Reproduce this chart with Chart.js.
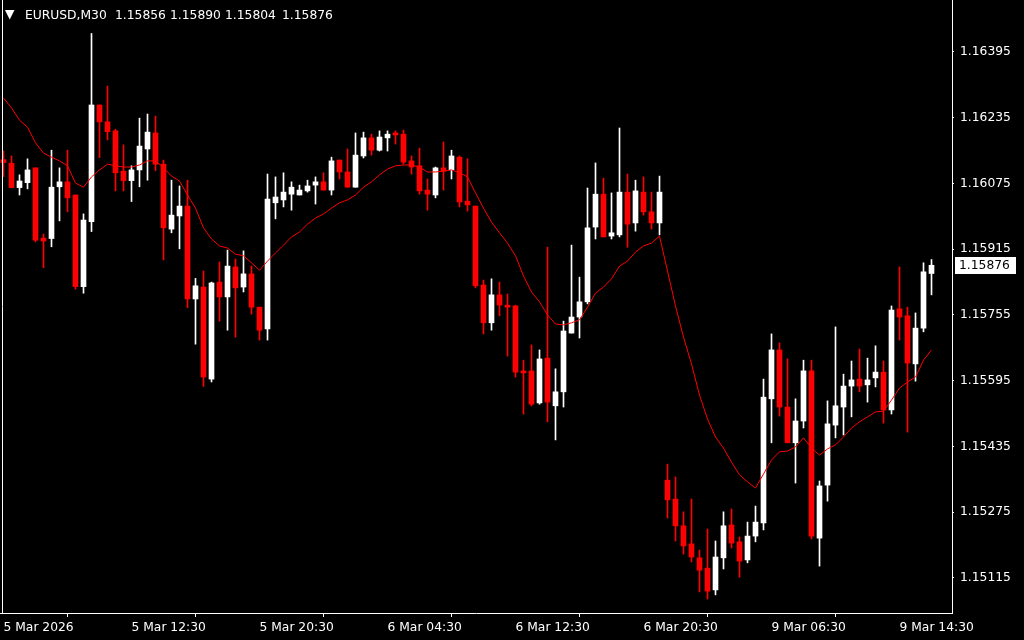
<!DOCTYPE html>
<html>
<head>
<meta charset="utf-8">
<script src="https://cdn.jsdelivr.net/npm/chart.js@4"></script>
<style>
html,body{margin:0;padding:0;background:#000;}
#wrap{width:1024px;height:640px;position:relative;}
</style>
</head>
<body>
<div id="wrap"><canvas id="c" width="1024" height="640"></canvas></div>
<script>
const symbol = "EURUSD,M30";
const xTickIndex = [0, 16, 32, 48, 64, 80, 96, 112];
const xTickLabels = ["5 Mar 2026", "5 Mar 12:30", "5 Mar 20:30", "6 Mar 04:30", "6 Mar 12:30", "6 Mar 20:30", "9 Mar 06:30", "9 Mar 14:30"];
const yTickValues = [1.15115, 1.15275, 1.15435, 1.15595, 1.15755, 1.15915, 1.16075, 1.16235, 1.16395];

const opens = [1.16133,1.16124,1.16065,1.16077,1.16113,1.15942,1.15941,1.16067,1.16079,1.16047,
1.15824,1.15982,1.16266,1.16225,1.16203,1.16105,1.16082,1.16108,1.16159,1.16198,
1.16122,1.15964,1.15996,1.16020,1.15794,1.15823,1.15599,1.15835,1.15799,1.15872,
1.15823,1.15855,1.15774,1.15721,1.16028,1.16035,1.16049,1.16047,1.16057,1.16071,
1.16079,1.16059,1.16132,1.16103,1.16066,1.16142,1.16186,1.16156,1.16186,1.16198,
1.16195,1.16130,1.16118,1.16059,1.16047,1.16113,1.16108,1.16139,1.16032,1.16020,
1.15828,1.15736,1.15804,1.15779,1.15777,1.15619,1.15619,1.15541,1.15650,1.15534,
1.15568,1.15711,1.15750,1.15787,1.15969,1.16049,1.15947,1.15950,1.16054,1.15979,
1.16054,1.16006,1.15979,1.15353,1.15307,1.15242,1.15198,1.15164,1.15139,1.15086,
1.15164,1.15244,1.15203,1.15159,1.15217,1.15249,1.15551,1.15670,1.15531,1.15444,
1.15497,1.15619,1.15212,1.15341,1.15487,1.15531,1.15582,1.15599,1.15585,1.15602,
1.15616,1.15524,1.15770,1.15753,1.15636,1.15723,1.15856];

const highs = [1.16154,1.16142,1.16096,1.16135,1.16113,1.15952,1.16156,1.16113,1.16156,1.16047,
1.16001,1.16440,1.16266,1.16312,1.16207,1.16169,1.16118,1.16234,1.16244,1.16239,
1.16132,1.16083,1.16069,1.16083,1.15844,1.15862,1.15835,1.15884,1.15913,1.15891,
1.15911,1.15874,1.15774,1.16098,1.16091,1.16101,1.16079,1.16071,1.16083,1.16091,
1.16101,1.16139,1.16132,1.16159,1.16198,1.16200,1.16195,1.16203,1.16203,1.16203,
1.16205,1.16142,1.16161,1.16086,1.16115,1.16176,1.16156,1.16142,1.16135,1.16020,
1.15840,1.15843,1.15835,1.15806,1.15779,1.15645,1.15682,1.15670,1.15920,1.15624,
1.15740,1.15925,1.15847,1.16064,1.16125,1.16088,1.16052,1.16210,1.16098,1.16083,
1.16091,1.16054,1.16093,1.15392,1.15361,1.15276,1.15307,1.15183,1.15234,1.15205,
1.15276,1.15283,1.15215,1.15251,1.15290,1.15599,1.15709,1.15687,1.15648,1.15551,
1.15645,1.15645,1.15351,1.15546,1.15726,1.15611,1.15643,1.15672,1.15650,1.15680,
1.15643,1.15777,1.15872,1.15774,1.15760,1.15882,1.15890];

const lows = [1.16092,1.16064,1.16047,1.16062,1.15933,1.15870,1.15921,1.15984,1.16006,1.15818,
1.15808,1.15958,1.16138,1.16181,1.16057,1.16057,1.16031,1.16067,1.16083,1.16106,
1.15889,1.15955,1.15916,1.15773,1.15684,1.15581,1.15592,1.15740,1.15718,1.15701,
1.15811,1.15757,1.15694,1.15694,1.15989,1.16018,1.16010,1.16047,1.16054,1.16025,
1.16059,1.16047,1.16086,1.16066,1.16066,1.16137,1.16144,1.16154,1.16154,1.16171,
1.16122,1.16098,1.16049,1.16010,1.16040,1.16059,1.16086,1.16018,1.16008,1.15821,
1.15709,1.15718,1.15753,1.15655,1.15604,1.15514,1.15534,1.15538,1.15495,1.15451,
1.15531,1.15711,1.15699,1.15782,1.15940,1.15945,1.15940,1.15945,1.15920,1.15959,
1.15998,1.15964,1.15950,1.15261,1.15205,1.15173,1.15154,1.15081,1.15064,1.15074,
1.15137,1.15188,1.15117,1.15152,1.15203,1.15232,1.15444,1.15509,1.15444,1.15346,
1.15480,1.15210,1.15144,1.15302,1.15456,1.15463,1.15507,1.15568,1.15543,1.15580,
1.15492,1.15514,1.15694,1.15470,1.15594,1.15714,1.15804];

const closes = [1.16126,1.16065,1.16081,1.16108,1.15937,1.15935,1.16066,1.16079,1.16040,1.15824,
1.15986,1.16266,1.16225,1.16201,1.16101,1.16082,1.16108,1.16166,1.16200,1.16122,
1.15967,1.15998,1.16020,1.15794,1.15826,1.15604,1.15833,1.15799,1.15874,1.15821,
1.15855,1.15774,1.15718,1.16037,1.16042,1.16054,1.16066,1.16059,1.16069,1.16079,
1.16059,1.16130,1.16103,1.16066,1.16144,1.16186,1.16156,1.16188,1.16195,1.16193,
1.16127,1.16115,1.16057,1.16049,1.16113,1.16105,1.16142,1.16030,1.16023,1.15826,
1.15736,1.15804,1.15779,1.15774,1.15616,1.15614,1.15538,1.15648,1.15543,1.15568,
1.15716,1.15750,1.15787,1.15967,1.16049,1.15945,1.15955,1.16054,1.15976,1.16057,
1.16006,1.15979,1.16054,1.15305,1.15242,1.15193,1.15166,1.15134,1.15083,1.15166,
1.15242,1.15200,1.15156,1.15217,1.15251,1.15555,1.15670,1.15531,1.15444,1.15497,
1.15619,1.15217,1.15339,1.15490,1.15534,1.15582,1.15597,1.15582,1.15597,1.15616,
1.15524,1.15767,1.15750,1.15638,1.15723,1.15860,1.15876];

const maValues = [1.16283,1.16259,1.16229,1.16212,1.16174,1.16149,1.16139,1.16130,1.16118,1.16076,
1.16066,1.16091,1.16108,1.16122,1.16118,1.16115,1.16115,1.16120,1.16130,1.16130,
1.16113,1.16093,1.16081,1.16047,1.16015,1.15967,1.15940,1.15923,1.15918,1.15903,
1.15899,1.15882,1.15864,1.15886,1.15906,1.15925,1.15945,1.15957,1.15976,1.15991,
1.16001,1.16015,1.16028,1.16035,1.16047,1.16066,1.16079,1.16096,1.16110,1.16118,
1.16120,1.16120,1.16115,1.16103,1.16103,1.16105,1.16108,1.16101,1.16091,1.16052,
1.16015,1.15981,1.15955,1.15930,1.15899,1.15850,1.15811,1.15787,1.15755,1.15733,
1.15731,1.15736,1.15743,1.15774,1.15808,1.15823,1.15843,1.15874,1.15886,1.15908,
1.15923,1.15930,1.15947,1.15862,1.15777,1.15701,1.15636,1.15560,1.15502,1.15458,
1.15431,1.15397,1.15366,1.15349,1.15334,1.15368,1.15402,1.15422,1.15424,1.15434,
1.15456,1.15431,1.15414,1.15429,1.15439,1.15458,1.15480,1.15495,1.15507,1.15519,
1.15521,1.15548,1.15577,1.15592,1.15604,1.15645,1.15670];

const WHITE = '#ffffff', RED = '#ff0000';
const FONT = 'DejaVu Sans';
const FSIZE = 12.3;
const fmt = v => v.toFixed(5);
const idx = opens.map((_, i) => i);
const colors = idx.map(i => closes[i] >= opens[i] ? WHITE : RED);

const bgPlugin = {
  id: 'bg',
  beforeDraw(chart) {
    const c = chart.ctx;
    c.save(); c.fillStyle = '#000'; c.fillRect(0, 0, chart.width, chart.height); c.restore();
  }
};

const overlayPlugin = {
  id: 'overlay',
  afterDraw(chart) {
    const c = chart.ctx;
    const a = chart.chartArea;
    const ys = chart.scales.y;
    c.save();
    c.strokeStyle = WHITE; c.lineWidth = 1;
    c.beginPath(); c.moveTo(2.5, a.top); c.lineTo(2.5, a.bottom); c.stroke();
    c.font = FSIZE + 'px "' + FONT + '"';
    c.fillStyle = WHITE;
    c.textBaseline = 'alphabetic';
    c.textAlign = 'left';
    c.fillText('\u25BC', 5, 18);
    const last = opens.length - 1;
    c.fillText(symbol, 25, 18.5);
    const vals = [opens[last], highs[last], lows[last], closes[last]];
    const xs = [115, 170, 225, 282];
    vals.forEach((v, k) => c.fillText(fmt(v), xs[k], 18.5));
    const py = Math.round(ys.getPixelForValue(closes[last]));
    c.fillStyle = WHITE;
    c.fillRect(955, py - 8, 61, 17);
    c.fillStyle = '#000';
    c.textBaseline = 'middle';
    c.fillText(fmt(closes[last]), 959, py + 1);
    c.restore();
  }
};

new Chart(document.getElementById('c'), {
  type: 'bar',
  data: {
    datasets: [
      {
        type: 'line',
        label: 'MA',
        data: idx.map(i => ({x: i, y: maValues[i]})),
        borderColor: RED,
        borderWidth: 1,
        pointRadius: 0,
        tension: 0,
        fill: false,
        order: 0
      },
      {
        label: 'body',
        data: idx.map(i => ({x: i, y: [opens[i], closes[i]]})),
        backgroundColor: colors,
        borderWidth: 0,
        barThickness: 5,
        minBarLength: 1,
        grouped: false,
        order: 1
      },
      {
        label: 'wick',
        data: idx.map(i => ({x: i, y: [lows[i], highs[i]]})),
        backgroundColor: colors,
        borderWidth: 0,
        barThickness: 1,
        minBarLength: 1,
        grouped: false,
        order: 2
      }
    ]
  },
  options: {
    responsive: false,
    devicePixelRatio: 1,
    animation: false,
    layout: {padding: 0},
    plugins: {legend: {display: false}, tooltip: {enabled: false}},
    scales: {
      x: {
        type: 'linear',
        position: 'bottom',
        min: -0.4375,
        max: 118.5625,
        offset: false,
        afterBuildTicks: s => { s.ticks = xTickIndex.map(v => ({value: v})); },
        afterFit: s => { s.height = 27; s.paddingLeft = 0; s.paddingRight = 0; },
        ticks: {
          color: WHITE,
          font: {family: FONT, size: FSIZE},
          align: 'start',
          maxRotation: 0,
          autoSkip: false,
          padding: 3,
          callback: (v) => { const k = xTickIndex.indexOf(v); return k >= 0 ? xTickLabels[k] : ''; }
        },
        grid: {drawOnChartArea: false, drawTicks: true, tickLength: 4, color: WHITE},
        border: {display: true, color: WHITE, width: 1}
      },
      y: {
        type: 'linear',
        position: 'right',
        min: 1.150298,
        max: 1.165215,
        afterBuildTicks: s => { s.ticks = yTickValues.map(v => ({value: v})); },
        afterFit: s => { s.width = 72; s.paddingTop = 0; s.paddingBottom = 0; },
        ticks: {
          color: WHITE,
          font: {family: FONT, size: FSIZE},
          padding: 6,
          callback: v => fmt(v)
        },
        grid: {drawOnChartArea: false, drawTicks: true, tickLength: 2, color: WHITE},
        border: {display: true, color: WHITE, width: 1}
      }
    }
  },
  plugins: [bgPlugin, overlayPlugin]
});
</script>
</body>
</html>
